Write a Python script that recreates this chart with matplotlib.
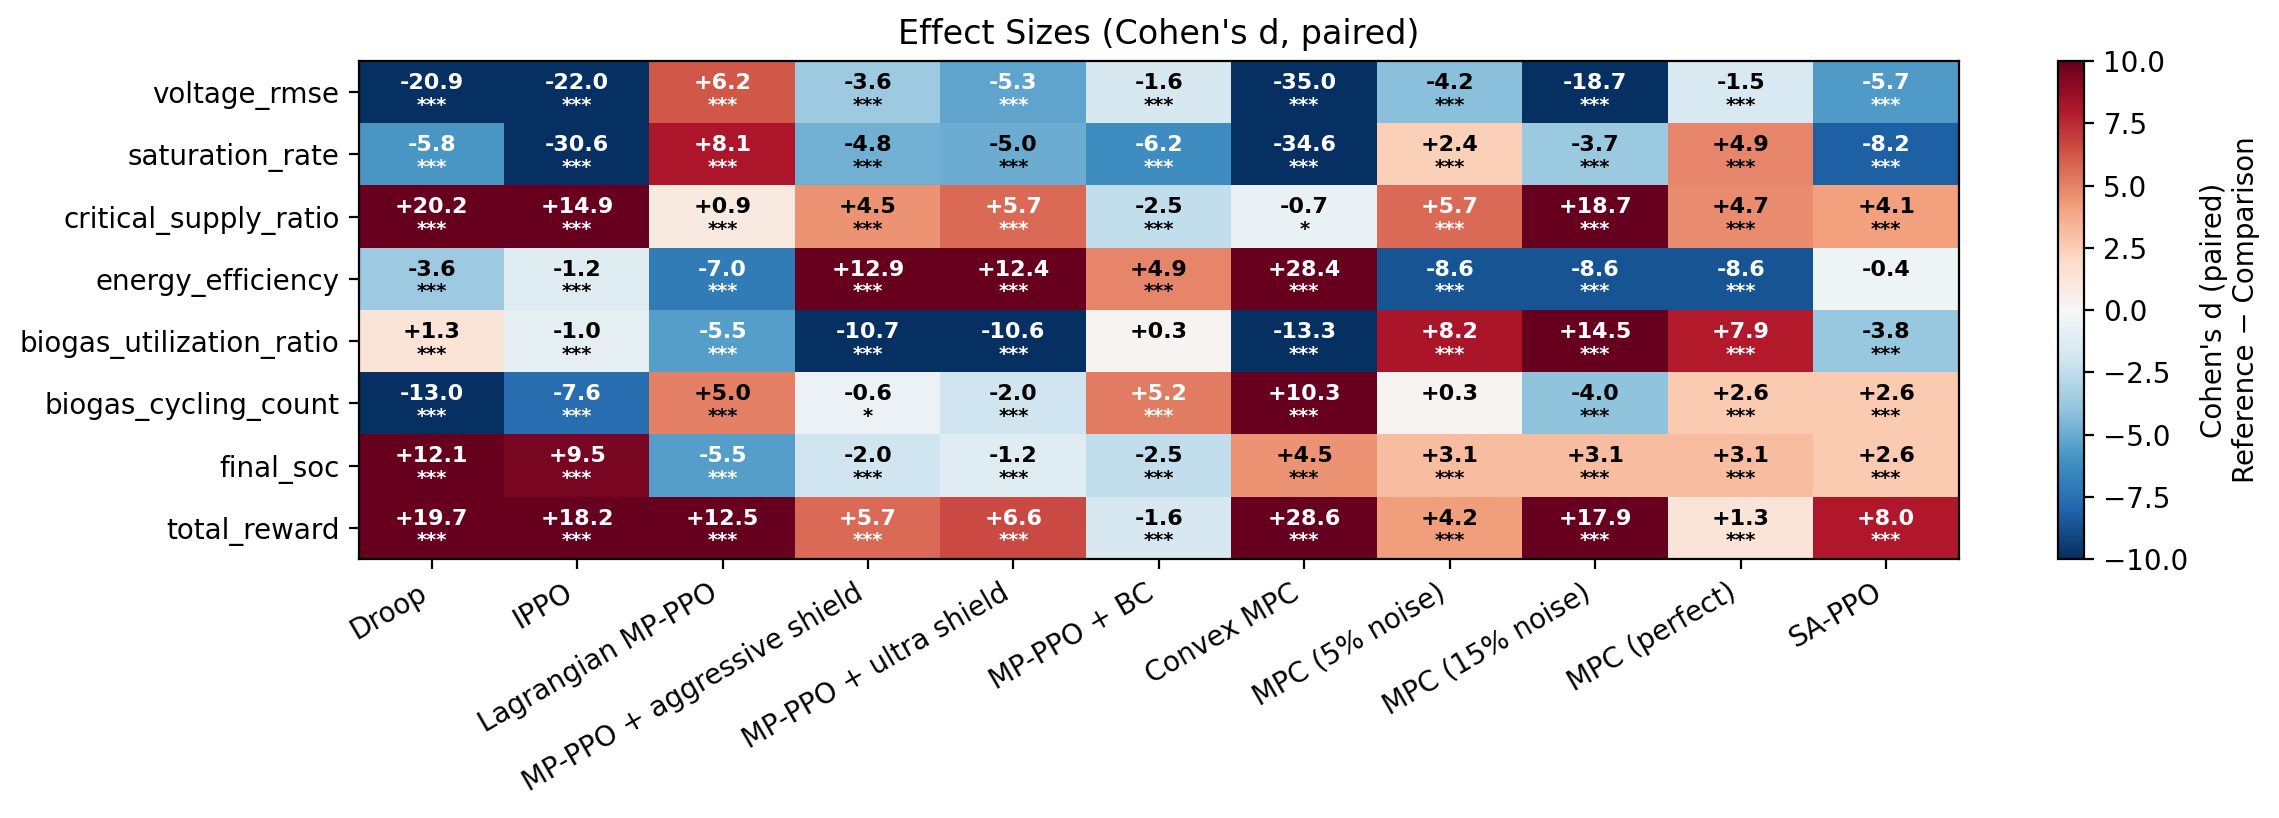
import matplotlib
matplotlib.use("Agg")
import matplotlib.pyplot as plt
import numpy as np

methods = [
    "Droop", "IPPO", "Lagrangian MP-PPO", "MP-PPO + aggressive shield",
    "MP-PPO + ultra shield", "MP-PPO + BC", "Convex MPC", "MPC (5% noise)",
    "MPC (15% noise)", "MPC (perfect)", "SA-PPO",
]
metrics = [
    "voltage_rmse", "saturation_rate", "critical_supply_ratio", "energy_efficiency",
    "biogas_utilization_ratio", "biogas_cycling_count", "final_soc", "total_reward",
]

voltage_rmse = [-20.9, -22.0, 6.2, -3.6, -5.3, -1.6, -35.0, -4.2, -18.7, -1.5, -5.7]
saturation_rate = [-5.8, -30.6, 8.1, -4.8, -5.0, -6.2, -34.6, 2.4, -3.7, 4.9, -8.2]
critical_supply_ratio = [20.2, 14.9, 0.9, 4.5, 5.7, -2.5, -0.7, 5.7, 18.7, 4.7, 4.1]
energy_efficiency = [-3.6, -1.2, -7.0, 12.9, 12.4, 4.9, 28.4, -8.6, -8.6, -8.6, -0.4]
biogas_utilization_ratio = [1.3, -1.0, -5.5, -10.7, -10.6, 0.3, -13.3, 8.2, 14.5, 7.9, -3.8]
biogas_cycling_count = [-13.0, -7.6, 5.0, -0.6, -2.0, 5.2, 10.3, 0.3, -4.0, 2.6, 2.6]
final_soc = [12.1, 9.5, -5.5, -2.0, -1.2, -2.5, 4.5, 3.1, 3.1, 3.1, 2.6]
total_reward = [19.7, 18.2, 12.5, 5.7, 6.6, -1.6, 28.6, 4.2, 17.9, 1.3, 8.0]

# significance markers, "" = not significant
S = "***"
stars = [
    [S] * 11,
    [S] * 11,
    [S, S, S, S, S, S, "*", S, S, S, S],
    [S, S, S, S, S, S, S, S, S, S, ""],
    [S, S, S, S, S, "", S, S, S, S, S],
    [S, S, S, "*", S, S, S, "", S, S, S],
    [S] * 11,
    [S] * 11,
]

d = np.array([voltage_rmse, saturation_rate, critical_supply_ratio, energy_efficiency,
              biogas_utilization_ratio, biogas_cycling_count, final_soc, total_reward])

fig = plt.figure(figsize=(11.395, 4.09), dpi=200)
ax = fig.add_axes([0.1575, 0.3166, 0.702, 0.6088])
cax = fig.add_axes([0.903, 0.3166, 0.0114, 0.6088])

im = ax.imshow(d, cmap="RdBu_r", vmin=-10, vmax=10, aspect="auto", interpolation="nearest")
ax.set_xticks(np.arange(len(methods)))
ax.set_xticklabels(methods, rotation=30, ha="right", fontsize=10)
ax.set_yticks(np.arange(len(metrics)))
ax.set_yticklabels(metrics, fontsize=10)
ax.set_title("Effect Sizes (Cohen's d, paired)", fontsize=12)

for i in range(d.shape[0]):
    for j in range(d.shape[1]):
        v = d[i, j]
        color = "white" if abs(v) > 5.0 else "black"
        ax.text(j, i - 0.15, f"{v:+.1f}", ha="center", va="center",
                fontsize=8, fontweight="bold", color=color)
        if stars[i][j]:
            ax.text(j, i + 0.21, stars[i][j], ha="center", va="center",
                    fontsize=7, fontweight="bold", color=color)

cb = fig.colorbar(im, cax=cax)
cb.ax.tick_params(labelsize=10)
cb.set_label("Cohen's d (paired)\nReference \u2212 Comparison", fontsize=10)

fig.savefig("out.png", dpi=200)
